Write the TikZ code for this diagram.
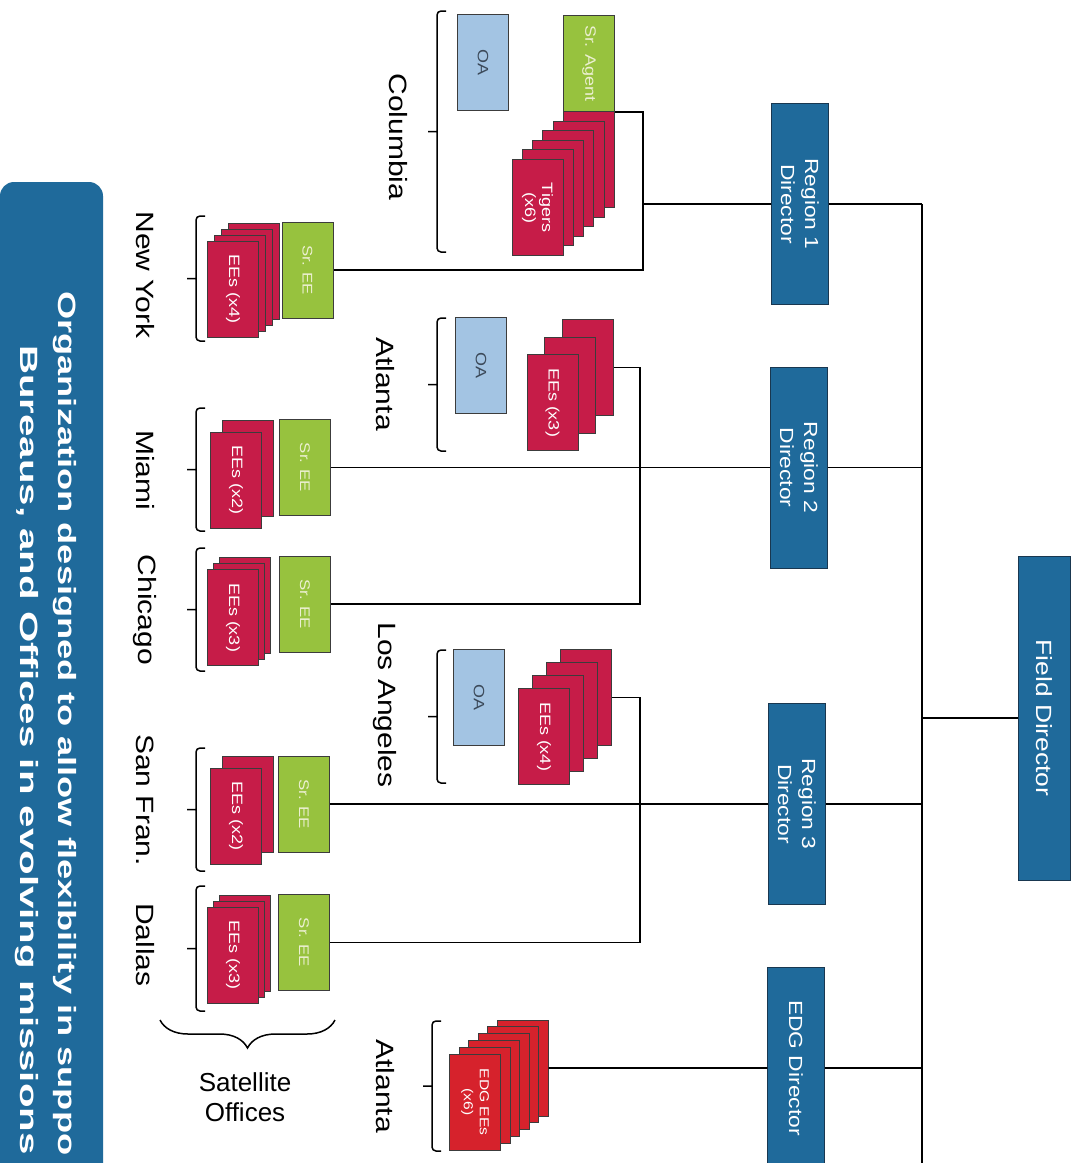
\documentclass[tikz,border=0pt]{standalone}
\usepackage{fontspec}
\setmainfont{Liberation Sans}[FakeStretch=1.2]
\newfontfamily\titlefont{Liberation Sans}[FakeStretch=1.45]
\newfontfamily\flatfont{Liberation Sans}
\usetikzlibrary{positioning,calc,decorations.pathreplacing}
\definecolor{orgBlue}{RGB}{31,106,155}
\definecolor{dirEdge}{RGB}{25,55,80}
\definecolor{oaBlue}{RGB}{163,196,227}
\definecolor{oaText}{RGB}{60,74,90}
\definecolor{srGreen}{RGB}{151,194,62}
\definecolor{srText}{RGB}{236,240,210}
\definecolor{eeRed}{RGB}{198,28,72}
\definecolor{edgRed}{RGB}{214,34,44}
\definecolor{cardEdge}{RGB}{60,60,60}
\tikzset{
    titletext/.style={rotate=-90, anchor=base west, inner sep=0pt, text=white,
                      font=\titlefont\bfseries\fontsize{25}{30}\selectfont},
    director/.style={rectangle, draw=dirEdge, fill=orgBlue, text=white, rotate=-90,
                     minimum width=201pt, minimum height=57pt, inner sep=1pt, align=center,
                     font=\fontsize{19}{24}\selectfont},
    card/.style={rectangle, draw=cardEdge, line width=1pt, rotate=-90,
                 minimum width=96pt, minimum height=51pt, inner sep=1pt, align=center},
    oabox/.style={card, fill=oaBlue, text=oaText, font=\fontsize{15}{18}\selectfont},
    srbox/.style={card, fill=srGreen, text=srText, font=\fontsize{14}{17}\selectfont},
    eecard/.style={card, fill=eeRed, text=white, font=\fontsize{15}{17}\selectfont},
    edgcard/.style={card, fill=edgRed, text=white, font=\fontsize{13}{16}\selectfont},
    place/.style={rotate=-90, inner sep=0pt, font=\fontsize{25}{30}\selectfont},
    link/.style={draw=black, line width=1.6pt},
    % square bracket with a small tick pointing left
    grp/.style={line width=1.5pt, rounded corners=4pt,
                to path={($(\tikztostart)+(9,0)$) -- (\tikztostart) -- (\tikztotarget)
                         -- ($(\tikztotarget)+(9,0)$)
                         ($(\tikztostart)!0.5!(\tikztotarget)$) -- ++(-9,0)}},
    sharp/.style={decorate, decoration={brace, amplitude=28pt}, line width=1.5pt}
}
\begin{document}
\begin{tikzpicture}[x=1pt, y=-1pt]
  \useasboundingbox (0,0) rectangle (1077,1163);
  \clip (0,0) rectangle (1077,1163);
  \fill[white] (0,0) rectangle (1077,1163);

  % Title banner
  \fill[orgBlue, rounded corners=14pt] (0,182) rectangle (103,1230);
  \node[titletext] (title1) at (58,291) {Organization designed to allow flexibility in suppo};
  \node[titletext] (title2) at (20,345) {\scalebox{1.11}[1]{Bureaus, and Offices in evolving missions}};

  % Directors
  \node[director, minimum width=324pt, minimum height=52pt,
        font=\fontsize{22}{26}\selectfont] (fd) at (1044,718) {Field Director};
  \node[director] (r1) at (800,204) {Region 1\\Director};
  \node[director] (r2) at (799,467.5) {Region 2\\Director};
  \node[director] (r3) at (797,804) {Region 3\\Director};
  \node[director] (edg) at (796,1068) {EDG Director};

  % Columbia
  \node[oabox] (col-oa) at (483,62.5) {OA};
  \foreach \i in {5,...,1}
    \node[eecard] (col-tg\i) at ($(537.5,207.5)+\i*(10.3,-9.6)$) {};
  \node[eecard] (col-tg0) at (537.5,207.5) {Tigers\\(x6)};
  \node[srbox, font=\fontsize{15}{18}\selectfont] (col-agent) at (589,63.5) {Sr. Agent};
  \node[place] (lbl-col) at (398,137) {Columbia};
  \draw[grp] (437,11) to (437,252);

  % New York
  \node[srbox] (ny-sr) at (307.5,270) {Sr. EE};
  \foreach \i in {3,...,1}
    \node[eecard] (ny-ee\i) at ($(233,289)+\i*(7,-6)$) {};
  \node[eecard] (ny-ee0) at (233,289) {EEs (x4)};
  \node[place] (lbl-ny) at (145,275) {New York};
  \draw[grp] (196,216) to (196,341);

  % Atlanta
  \node[oabox] (atl-oa) at (481,365.5) {OA};
  \foreach \i in {2,1}
    \node[eecard] (atl-ee\i) at ($(552.5,402.5)+\i*(17.75,-17.5)$) {};
  \node[eecard] (atl-ee0) at (552.5,402.5) {EEs (x3)};
  \node[place] (lbl-atl) at (385,384) {Atlanta};
  \draw[grp] (437,318) to (437,451);

  % Miami
  \node[srbox] (mia-sr) at (305,467.5) {Sr. EE};
  \node[eecard] (mia-ee1) at ($(236,480)+(12,-12)$) {};
  \node[eecard] (mia-ee0) at (236,480) {EEs (x2)};
  \node[place] (lbl-mia) at (145,470) {Miami};
  \draw[grp] (196,408) to (196,531);

  % Chicago
  \node[srbox] (chi-sr) at (305,604) {Sr. EE};
  \foreach \i in {2,1}
    \node[eecard] (chi-ee\i) at ($(233,617.5)+\i*(6,-6)$) {};
  \node[eecard] (chi-ee0) at (233,617.5) {EEs (x3)};
  \node[place] (lbl-chi) at (145,610) {Chicago};
  \draw[grp] (196,548) to (196,671);

  % Los Angeles
  \node[oabox] (la-oa) at (479,697.5) {OA};
  \foreach \i in {3,...,1}
    \node[eecard] (la-ee\i) at ($(544,736.5)+\i*(14,-13)$) {};
  \node[eecard] (la-ee0) at (544,736.5) {EEs (x4)};
  \node[place] (lbl-la) at (385,705) {Los Angeles};
  \draw[grp] (437,650) to (437,783);

  % San Fran.
  \node[srbox] (sf-sr) at (304,804) {Sr. EE};
  \node[eecard] (sf-ee1) at ($(236,816)+(12,-12)$) {};
  \node[eecard] (sf-ee0) at (236,816) {EEs (x2)};
  \node[place] (lbl-sf) at (145,800) {San Fran.};
  \draw[grp] (196,748) to (196,871);

  % Dallas
  \node[srbox] (dal-sr) at (304,942.5) {Sr. EE};
  \foreach \i in {2,1}
    \node[eecard] (dal-ee\i) at ($(233,955)+\i*(6,-6)$) {};
  \node[eecard] (dal-ee0) at (233,955) {EEs (x3)};
  \node[place] (lbl-dal) at (145,945) {Dallas};
  \draw[grp] (196,886) to (196,1011);

  % Satellite offices
  \draw[sharp] (335,1020) -- (160,1020);
  \node[font=\flatfont\fontsize{26}{30}\selectfont, align=center] (sat) at (245,1097) {Satellite\\Offices};

  % EDG Atlanta
  \foreach \i in {5,...,1}
    \node[edgcard] (edg-ee\i) at ($(475,1102)+\i*(9.5,-6.8)$) {};
  \node[edgcard] (edg-ee0) at (475,1102) {EDG EEs\\(x6)};
  \node[place] (lbl-edg) at (385,1086) {Atlanta};
  \draw[grp] (432,1021) to (432,1151);

  % Connectors
  \coordinate (busend) at (922,1163);
  \coordinate (j1) at (643,0);
  \coordinate (j2) at (640,0);
  \draw[link] (r1.north -| busend) -- (busend);
  \draw[link] (fd.south) -- (fd.south -| busend);
  \foreach \d in {r1,r2,r3,edg}
    \draw[link] (\d.north) -- (\d.north -| busend);
  \draw[link] (r1.south) -- (r1.south -| j1);
  \draw[link] (col-agent.north east) -- (col-agent.north east -| j1) -- (ny-sr.north -| j1) -- (ny-sr.north);
  \draw[link] (r2.south) -- (mia-sr.north);
  \draw[link] (atl-ee2.north) -- (atl-ee2.north -| j2) -- (chi-sr.north -| j2) -- (chi-sr.north);
  \draw[link] (r3.south) -- (sf-sr.north);
  \draw[link] (la-ee3.north) -- (la-ee3.north -| j2) -- (dal-sr.north -| j2) -- (dal-sr.north);
  \draw[link] (edg.south) -- (edg-ee5.north);
\end{tikzpicture}
\end{document}
